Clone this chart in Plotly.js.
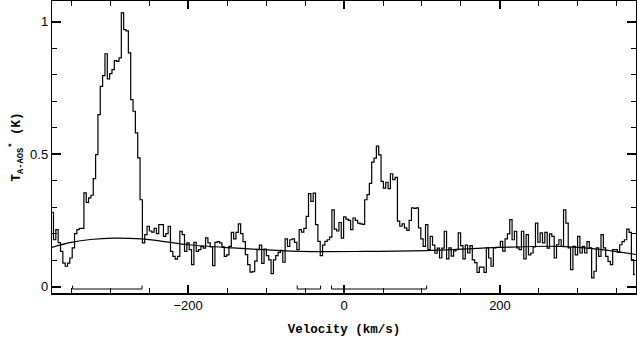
<html><head>
<title>Spectrum</title>
<script src="https://cdn.plot.ly/plotly-3.0.1.min.js"></script>
<style>
  body { margin: 0; padding: 0; background: white; }
  #plot { width: 637px; height: 337px; }
</style>
</head>
<body>
<div id="plot"></div>
<script>
// channel grid (km/s)
const vStart = -374;
const chanWidth = 3;

// antenna temperature per channel (K)
const tempA = [
  0.28, 0.177, 0.215, 0.166, 0.133, 0.089, 0.077, 0.089, 0.108, 0.146,
  0.20, 0.215, 0.22, 0.22, 0.354, 0.318, 0.335, 0.345, 0.408, 0.498,
  0.649, 0.756, 0.796, 0.879, 0.784, 0.804, 0.819, 0.853, 0.85, 0.863,
  1.033, 0.97, 0.965, 0.882, 0.706, 0.662, 0.58, 0.486, 0.328, 0.165,
  0.196, 0.228,
  0.21, 0.206, 0.22, 0.20, 0.234, 0.234, 0.19, 0.20, 0.228, 0.133,
  0.114, 0.104, 0.114, 0.209, 0.196, 0.133, 0.165, 0.14, 0.083, 0.167,
  0.133, 0.14, 0.152, 0.145, 0.184, 0.165, 0.15, 0.079, 0.167, 0.17,
  0.165, 0.15, 0.114, 0.12, 0.152, 0.205, 0.18, 0.205, 0.237, 0.20,
  0.17,
  0.121, 0.083, 0.055, 0.057, 0.096, 0.14, 0.157, 0.088, 0.142, 0.117,
  0.101, 0.049, 0.101, 0.117, 0.129, 0.137, 0.092, 0.18, 0.152, 0.177,
  0.18, 0.167, 0.14, 0.215, 0.206, 0.22, 0.265, 0.351, 0.322, 0.353,
  0.234, 0.171, 0.117, 0.157, 0.171, 0.177, 0.187, 0.29, 0.217, 0.21,
  0.242, 0.183, 0.263, 0.255, 0.25,
  0.215, 0.259, 0.25, 0.24, 0.237, 0.235, 0.328, 0.347, 0.39, 0.47,
  0.485, 0.53, 0.497, 0.397, 0.372, 0.394, 0.37, 0.426, 0.404, 0.412,
  0.247, 0.228, 0.237, 0.222, 0.212, 0.25, 0.297, 0.295, 0.297, 0.222,
  0.18, 0.152, 0.234, 0.14, 0.19, 0.157, 0.126, 0.145, 0.108, 0.145,
  0.209, 0.105, 0.146, 0.115, 0.135, 0.14, 0.203, 0.155, 0.105, 0.157,
  0.127, 0.155, 0.101, 0.091, 0.054, 0.074, 0.074, 0.054, 0.146, 0.108,
  0.077, 0.146, 0.148, 0.148, 0.171, 0.134, 0.18, 0.199, 0.253, 0.177,
  0.209, 0.146, 0.14, 0.209, 0.105, 0.196, 0.12, 0.127, 0.15, 0.24,
  0.168,
  0.203, 0.165, 0.205, 0.145, 0.199, 0.19, 0.108, 0.158, 0.177, 0.152,
  0.29, 0.24, 0.146, 0.064, 0.152, 0.12, 0.19, 0.127, 0.152, 0.127,
  0.17, 0.146, 0.033, 0.058, 0.146, 0.114, 0.196, 0.146, 0.114, 0.095,
  0.083, 0.14, 0.14, 0.13, 0.158, 0.17, 0.177, 0.217, 0.205, 0.101,
  0.045
];

// fitted baseline, sampled off the plot
const baseVel = [-375, -350, -325, -295, -260, -230, -200, -142, -56, 29, 114, 200, 277, 330, 375];
const baseVal = [0.148, 0.167, 0.178, 0.183, 0.180, 0.170, 0.158, 0.146, 0.133, 0.133, 0.137, 0.148, 0.152, 0.140, 0.121];

// baseline windows (km/s)
const winStart = [-348, -60, -16];
const winEnd = [-259, -30, 106];

const vel = tempA.map((_, i) => vStart + i * chanWidth);

// bracket marks for windows
const brTop = 0.004, brLow = -0.009;
const brX = [], brY = [];
winStart.forEach((s, k) => {
  brX.push(s, s, winEnd[k], winEnd[k], null);
  brY.push(brTop, brLow, brLow, brTop, null);
});

const spec = {
  x: vel, y: tempA,
  type: 'scatter', mode: 'lines',
  line: { shape: 'hvh', color: 'black', width: 1.2 },
  hoverinfo: 'skip'
};
const base = {
  x: baseVel, y: baseVal,
  type: 'scatter', mode: 'lines',
  line: { shape: 'spline', color: 'black', width: 1.2 },
  hoverinfo: 'skip'
};
const windows = {
  x: brX, y: brY,
  type: 'scatter', mode: 'lines',
  line: { color: 'black', width: 1 },
  hoverinfo: 'skip'
};

const tickFont = { family: 'Liberation Sans, Arial, sans-serif', size: 13, color: 'black' };
const titleFont = { family: 'Liberation Mono, monospace', size: 12.5, color: 'black', weight: 'bold' };

const layout = {
  width: 637, height: 337,
  margin: { l: 52, r: 1, t: 1, b: 44 },
  showlegend: false,
  paper_bgcolor: 'white', plot_bgcolor: 'white',
  xaxis: {
    range: [-374.4, 374.4],
    dtick: 200, tick0: 0,
    ticks: 'inside', ticklen: 8, tickwidth: 1.5, tickcolor: 'black',
    minor: { dtick: 50, ticks: 'inside', ticklen: 5, tickwidth: 1, tickcolor: 'black' },
    showline: true, linecolor: 'black', linewidth: 1.5, mirror: 'ticks',
    showgrid: false, zeroline: false,
    tickfont: tickFont,
    title: { text: 'Velocity (km/s)', font: titleFont, standoff: 12 }
  },
  yaxis: {
    range: [-0.024, 1.078],
    dtick: 0.5, tick0: 0,
    ticks: 'inside', ticklen: 9, tickwidth: 2, tickcolor: 'black',
    minor: { dtick: 0.1, ticks: 'inside', ticklen: 5, tickwidth: 1, tickcolor: 'black' },
    showline: true, linecolor: 'black', linewidth: 1.2, mirror: 'ticks',
    showgrid: false, zeroline: false,
    tickfont: tickFont,
    title: { text: 'T<sub>A-AOS</sub><sup>*</sup> (K)', font: titleFont, standoff: 6 }
  }
};

Plotly.newPlot('plot', [spec, base, windows], layout, { staticPlot: true });
</script>
</body></html>
